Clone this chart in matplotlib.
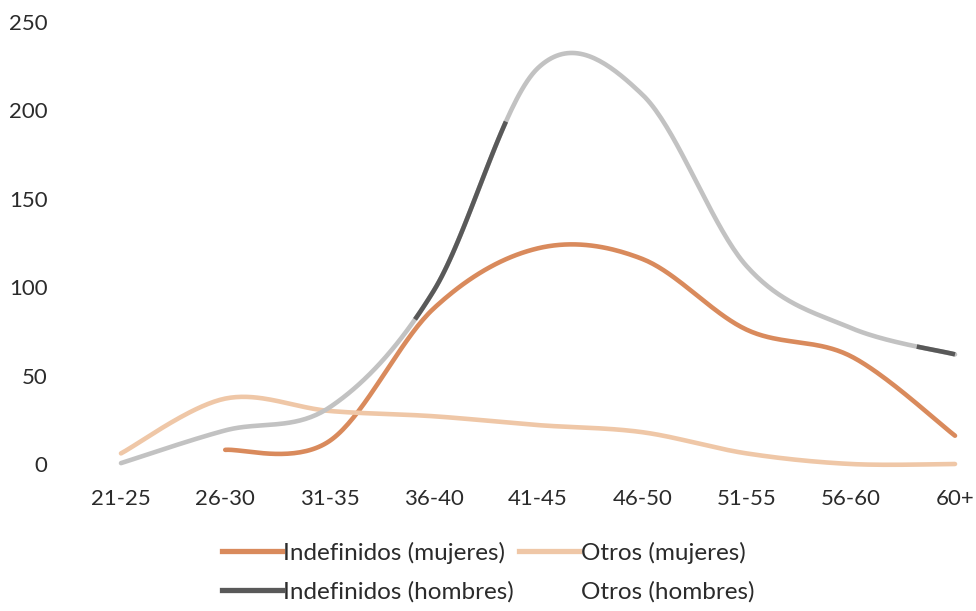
import numpy as np
import matplotlib
matplotlib.use('Agg')
import matplotlib.pyplot as plt
from matplotlib.lines import Line2D

# categories and values
categories = ['21-25', '26-30', '31-35', '36-40', '41-45', '46-50', '51-55', '56-60', '60+']
indef_mujeres = [None, 8, 13, 88, 122, 116, 76, 61, 16]
otros_mujeres = [6, 37, 30, 27, 22, 18, 6, 0, 0]
hombres = [0.5, 19, 32, 98, 224, 209, 112, 77, 62]

# colours
C_INDEF_M = '#d98a5c'
C_OTROS_M = '#efc7a7'
C_GRAY = '#c2c2c2'
C_DARK = '#595959'
TEXT = '#2b2b2b'

# stretches of the men's line that are drawn in the dark colour
DARK_SPANS = [(2.8, 3.7), (7.62, 8.0)]

plt.rcParams['font.family'] = ['Lato', 'DejaVu Sans']


def smooth(vals):
    """Excel-style smoothed line: Bezier segments through the points."""
    pts = [(i, v) for i, v in enumerate(vals) if v is not None]
    p = np.array(pts, dtype=float)
    n = len(p)
    xs, ys = [], []
    t = np.linspace(0, 1, 40)
    for i in range(n - 1):
        p0 = p[max(i - 1, 0)]
        p1 = p[i]
        p2 = p[i + 1]
        p3 = p[min(i + 2, n - 1)]
        c1 = p1 + (p2 - p0) / 6
        c2 = p2 - (p3 - p1) / 6
        seg = ((1 - t) ** 3)[:, None] * p1 + (3 * (1 - t) ** 2 * t)[:, None] * c1 \
            + (3 * (1 - t) * t ** 2)[:, None] * c2 + (t ** 3)[:, None] * p2
        xs.extend(seg[:, 0])
        ys.extend(seg[:, 1])
    return np.array(xs), np.array(ys)


fig = plt.figure(figsize=(9.76, 6.11), dpi=100)
ax = fig.add_axes([60 / 976, (611 - 464) / 611, 910 / 976, (464 - 22) / 611])

lw = 3.3
x, y = smooth(indef_mujeres)
ax.plot(x, y, color=C_INDEF_M, lw=lw, solid_capstyle='round', clip_on=False)
x, y = smooth(otros_mujeres)
ax.plot(x, y, color=C_OTROS_M, lw=lw, solid_capstyle='round', clip_on=False)
x, y = smooth(hombres)
ax.plot(x, y, color=C_GRAY, lw=lw, solid_capstyle='round', clip_on=False)
for a, b in DARK_SPANS:
    m = (x >= a) & (x <= b)
    ax.plot(x[m], y[m], color=C_DARK, lw=lw, solid_capstyle='butt', clip_on=False)

ax.set_xlim((60 - 121) / 104.25, (970 - 121) / 104.25)
ax.set_ylim(0, 250)
ax.set_yticks(range(0, 251, 50))
ax.set_xticks(range(len(categories)))
ax.set_xticklabels(categories)
ax.tick_params(axis='both', length=0, labelsize=16, labelcolor=TEXT)
ax.tick_params(axis='y', pad=9)
ax.tick_params(axis='x', pad=18)
for s in ax.spines.values():
    s.set_visible(False)

handles = [
    Line2D([], [], color=C_INDEF_M, lw=lw + 0.5),
    Line2D([], [], color=C_DARK, lw=lw + 0.5),
    Line2D([], [], color=C_OTROS_M, lw=lw + 0.5),
    Line2D([], [], color='white', lw=lw),
]
labels = ['Indefinidos (mujeres)', 'Indefinidos (hombres)', 'Otros (mujeres)', 'Otros (hombres)']
leg = fig.legend(handles, labels, ncol=2, loc='center', bbox_to_anchor=(488 / 976, 1 - 572 / 611),
                 frameon=False, fontsize=17.5, handlelength=2.45, handletextpad=0.08,
                 columnspacing=0.2, labelspacing=0.7, labelcolor=TEXT)

fig.savefig('out.png', dpi=100, facecolor='white')
